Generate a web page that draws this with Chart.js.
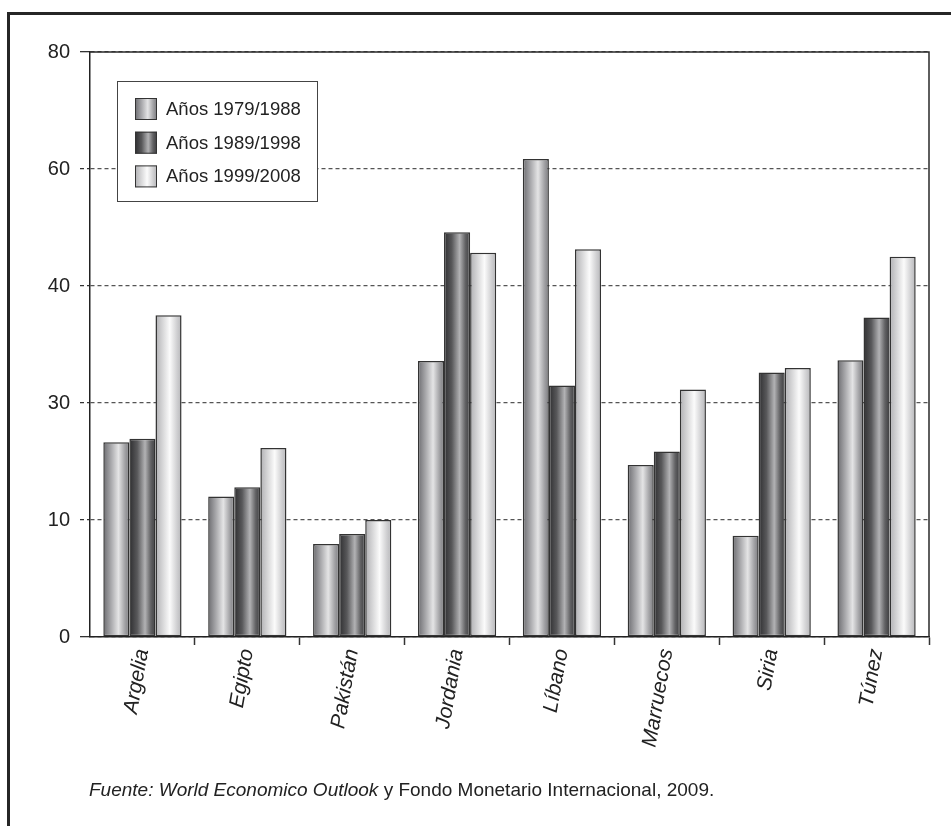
<!DOCTYPE html>
<html lang="es">
<head>
<meta charset="utf-8">
<title>Comparación por periodos</title>
<script src="https://cdn.jsdelivr.net/npm/chart.js@4.4.1/dist/chart.umd.min.js"></script>
<style>
  html, body { margin: 0; padding: 0; background: #fff; overflow: hidden; }
  #wrap { position: relative; width: 951px; height: 826px; }
  #frame {
    position: absolute; left: 7px; top: 12px; width: 1000px; height: 1000px;
    border-left: 3px solid #262626; border-top: 3px solid #262626;
  }
  #chart { position: absolute; left: 0; top: 0; }
  #fuente {
    position: absolute; left: 89px; top: 779px;
    font: 19px "Liberation Sans", Arial, Helvetica, sans-serif; color: #222; white-space: nowrap;
  }
</style>
</head>
<body>
<div id="wrap">
  <div id="frame"></div>
  <canvas id="chart" width="951" height="826"></canvas>
  <div id="fuente"><i>Fuente: World Economico Outlook</i> y Fondo Monetario Internacional, 2009.</div>
</div>
<script>
// categorías y series
const paises = ["Argelia", "Egipto", "Pakistán", "Jordania", "Líbano", "Marruecos", "Siria", "Túnez"];
const periodos = ["Años 1979/1988", "Años 1989/1998", "Años 1999/2008"];
const serie7988 = [33.3, 24.0, 15.9, 47.2, 81.7, 29.4, 17.3, 47.3];
const serie8998 = [33.9, 25.6, 17.6, 69.2, 43.0, 31.7, 45.2, 54.6];
const serie9908 = [55.0, 32.3, 20.0, 65.7, 66.3, 42.3, 46.0, 65.0];
// rótulos del eje vertical, uno por línea de guía
const yTickLabels = ["0", "10", "30", "40", "60", "80"];

const FONT = '"Liberation Sans", Arial, Helvetica, sans-serif';
const CAT_PCT = 0.746;
const BAR_PCT = 1;

// degradados tipo cilindro para cada periodo
const tonos = [
  [[0, "#6c6c70"], [0.3, "#a9a9ac"], [0.58, "#e4e4e5"], [0.82, "#a4a4a7"], [1, "#7a7a7e"]],
  [[0, "#2e2e30"], [0.3, "#58585a"], [0.6, "#b2b2b4"], [0.82, "#626264"], [1, "#3c3c3e"]],
  [[0, "#b0b0b3"], [0.32, "#dcdcdd"], [0.55, "#fbfbfb"], [0.82, "#d0d0d2"], [1, "#b6b6b9"]]
];

function degradado(c, x0, x1, stops) {
  const g = c.createLinearGradient(x0, 0, x1, 0);
  stops.forEach(([o, col]) => g.addColorStop(o, col));
  return g;
}

function relleno(ctx) {
  const chart = ctx.chart;
  const x = chart.scales.x;
  const stops = tonos[ctx.datasetIndex];
  if (!x || ctx.dataIndex === undefined) return stops[2][1];
  const catW = x.width / paises.length;
  const grupo = catW * CAT_PCT;
  const barW = grupo / periodos.length * BAR_PCT;
  const izq = x.getPixelForValue(ctx.dataIndex) - grupo / 2 + ctx.datasetIndex * grupo / periodos.length;
  // antes del primer ajuste de escalas no hay medidas válidas
  if (!isFinite(izq) || !isFinite(barW) || barW <= 0) return stops[2][1];
  return degradado(chart.ctx, izq, izq + barW, stops);
}

// marco superior y derecho del área de trazado
const marco = {
  id: "marco",
  afterDatasetsDraw(chart) {
    const { ctx: c, chartArea: a } = chart;
    c.save();
    c.strokeStyle = "#2a2a2a";
    c.lineWidth = 1.5;
    c.beginPath();
    c.moveTo(a.left, a.top);
    c.lineTo(a.right, a.top);
    c.lineTo(a.right, a.bottom);
    c.stroke();
    c.restore();
  }
};

// leyenda en recuadro dentro del gráfico
const leyenda = {
  id: "leyenda",
  afterDraw(chart) {
    const c = chart.ctx;
    c.save();
    c.fillStyle = "#fff";
    c.fillRect(117.5, 81.5, 200, 120);
    c.strokeStyle = "#444";
    c.lineWidth = 1;
    c.strokeRect(117.5, 81.5, 200, 120);
    chart.data.datasets.forEach((ds, i) => {
      const y = 98 + i * 33.7;
      c.fillStyle = degradado(c, 135, 157, tonos[i]);
      c.fillRect(135, y, 22, 22);
      c.strokeStyle = "#333";
      c.strokeRect(135.5, y + 0.5, 21, 21);
      c.fillStyle = "#222";
      c.font = "18.5px " + FONT;
      c.textBaseline = "middle";
      c.fillText(ds.label, 166, y + 12);
    });
    c.restore();
  }
};

const series = [serie7988, serie8998, serie9908];

new Chart(document.getElementById("chart"), {
  type: "bar",
  data: {
    labels: paises,
    datasets: series.map((vals, i) => ({
      label: periodos[i],
      data: vals,
      backgroundColor: relleno,
      borderColor: "#333",
      borderWidth: 1.5,
      borderSkipped: false
    }))
  },
  options: {
    responsive: false,
    animation: false,
    layout: { padding: { left: 0, right: 22, top: 52, bottom: 0 } },
    datasets: { bar: { categoryPercentage: CAT_PCT, barPercentage: BAR_PCT } },
    plugins: { legend: { display: false }, tooltip: { enabled: false } },
    scales: {
      x: {
        ticks: {
          autoSkip: false, minRotation: 80, maxRotation: 80, padding: 2,
          color: "#222", font: { family: FONT, size: 21, style: "italic" }
        },
        grid: {
          drawOnChartArea: false, tickLength: 8, tickWidth: 1.5,
          tickColor: c => c.index === 0 ? "rgba(0,0,0,0)" : "#333"
        },
        border: { color: "#222", width: 1.5 },
        afterFit: s => { s.height = 189; }
      },
      y: {
        min: 0, max: 100,
        ticks: {
          stepSize: 20, padding: 10, color: "#222",
          font: { family: FONT, size: 20 },
          callback: (v, i) => yTickLabels[i]
        },
        grid: {
          color: "#555", lineWidth: 1.3, tickLength: 10, tickColor: "#333", tickWidth: 1.3,
          tickBorderDash: c => (c.index === 0 || c.index === yTickLabels.length - 1) ? [] : [4, 3]
        },
        border: { color: "#222", width: 1.5, dash: [4, 3] },
        afterFit: s => { s.width = 90; }
      }
    }
  },
  plugins: [marco, leyenda]
});
</script>
</body>
</html>
